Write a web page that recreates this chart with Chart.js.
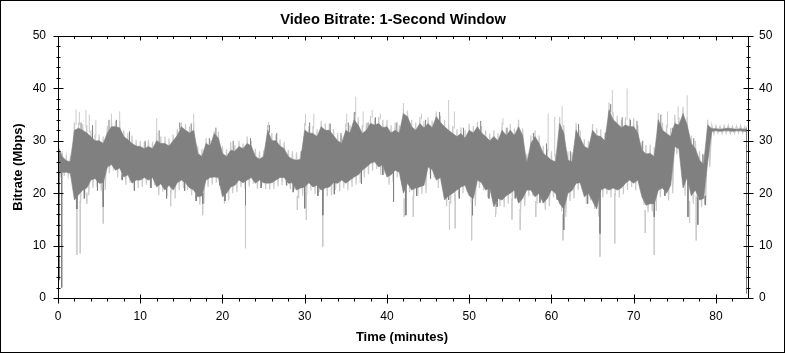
<!DOCTYPE html>
<html lang="en">
<head>
    <meta charset="UTF-8">
    <title>Video Bitrate: 1-Second Window</title>
    <style>
        body { margin: 0; background: #fff; }
        #chart { display: block; }
    </style>
</head>
<body>

<canvas id="chart" width="785" height="353"></canvas>

<script src="https://cdn.jsdelivr.net/npm/chart.js"></script>
<script>
  // time step of the envelope arrays (minutes)
  const STEP = 0.5;
  const END_T = 83.72;
  const X_MAX = 83.9;
  const xTicks = [0, 10, 20, 30, 40, 50, 60, 70, 80];
  const yTicks = [0, 10, 20, 30, 40, 50];

  // dark grey trace: upper and lower envelope per half minute (Mbps)
  const darkHi = [
    29, 27, 26.2, 26, 32, 32.4, 32, 31.5, 30.8, 30,
    30, 29.5, 31.5, 32.7, 32.7, 32.5, 30.8, 30.2, 29.5, 29,
    28.9, 28.5, 28.9, 28.5, 30, 29.5, 29.5, 29, 30, 31,
    32.7, 32, 31.5, 32, 27.6, 27, 29.5, 29, 31.4, 30.5,
    27.6, 27, 28.2, 28, 28.9, 28.5, 29.5, 29, 27, 26.5,
    27, 32, 30, 30, 29, 28.5, 27, 26.5, 26.3, 26.5,
    32, 31.5, 31.4, 30.8, 32.7, 32, 32, 31, 30, 29.5,
    32, 31.5, 34, 33, 31.4, 32, 33.3, 33, 33.3, 32.5,
    32.7, 31.5, 32, 31.5, 35.2, 34.6, 32.7, 32, 33.3, 32.5,
    33.3, 32.5, 34.6, 33.5, 32.7, 32, 31.4, 30.8, 31.4, 30.5,
    32, 31.5, 32.7, 31.5, 30.8, 30, 30.8, 30, 32, 31,
    32, 31, 32.7, 31, 25.7, 29.5, 30.8, 29.5, 27.6, 27,
    26.3, 26, 33.3, 31.5, 26.3, 26, 32, 30.5, 28.9, 28.5,
    32, 31, 30.8, 30, 35.9, 34, 33.3, 32.5, 33, 32.7,
    32.7, 31.5, 28.2, 27.5, 27.6, 27, 34, 32, 31.4, 30.8,
    33.3, 33, 35.2, 33, 29.5, 28.5, 26.3, 25.5, 33, 32.3,
    32.3, 32.2, 32.3, 32.4, 32.3, 32.2, 32.3, 32.2
  ];
  const darkLo = [
    24, 24, 24, 23.8, 18.7, 19.7, 20.6, 21, 22.5, 22.8,
    21.9, 22, 25, 25.5, 24.4, 24.8, 23.1, 23.5, 21.9, 22.5,
    22.5, 23, 22.5, 23, 21.2, 21.8, 20.6, 21.5, 20.6, 22,
    22.5, 22, 21, 20.6, 19.3, 19.5, 22.5, 23, 23.1, 23,
    19.3, 20, 21.2, 21.5, 22.5, 22, 22.5, 23, 21.9, 22.5,
    22, 21.9, 22, 22.5, 23, 23, 21.9, 22, 20.6, 21,
    21.2, 22, 21.2, 21.5, 20.6, 21, 21.2, 22, 21.9, 22.5,
    21.9, 22.5, 23.1, 23.5, 24.4, 25, 25.7, 26, 25, 25.5,
    23.1, 23.5, 24.4, 24, 20, 21.9, 20.6, 21, 21.2, 21.5,
    25, 24.5, 22.5, 23, 18.7, 19.5, 20, 20.6, 21.2, 21.5,
    19.5, 19, 22.5, 22, 20.6, 21, 17.4, 19, 18.7, 19.5,
    20, 20.6, 18.1, 19, 20.6, 20.6, 19.3, 20, 18.1, 19,
    20.6, 20, 18, 17, 20, 20.5, 21.9, 22, 19.3, 20,
    18.5, 17, 20.6, 21, 20.6, 21, 20.6, 21, 21.9, 22.5,
    21.9, 22.5, 19.3, 17.7, 18, 18, 20.6, 21, 20, 21.5,
    28.9, 28.5, 21, 23, 19.5, 20.6, 18.7, 19, 26, 31.8,
    31.9, 31.8, 31.9, 31.9, 31.8, 31.9, 31.9, 31.8
  ];

  // light grey trace: envelope per half minute (Mbps)
  const lightHi = [
    30, 28, 27, 26.8, 33.5, 33.5, 33.2, 33, 32, 31.2,
    31.2, 30.8, 32.8, 34, 33.8, 33.8, 32, 31.5, 31, 30.2,
    30, 29.8, 30.2, 29.8, 31.5, 30.8, 30.8, 30.5, 31.2, 32.3,
    33.5, 33.2, 32.8, 33.4, 29, 28.5, 30.5, 30.2, 31.8, 31.7,
    29, 28.4, 29.8, 29.2, 30, 29.5, 30.8, 30, 28.5, 28,
    28.2, 33, 31.5, 31.2, 30.3, 29.8, 28.3, 28, 27.8, 28,
    33.4, 32.8, 32.8, 32.2, 33.8, 33.3, 33.3, 32.3, 31.5, 31,
    33.3, 33, 35.5, 34.5, 33, 33.4, 34.8, 34.3, 34.6, 34,
    34, 33, 33.5, 33, 36.2, 35.8, 34, 33.5, 34.6, 33.8,
    34.5, 33.8, 35.6, 34.8, 34, 33.2, 32.8, 32.2, 32.6, 32,
    33.3, 32.8, 33.6, 32.8, 32, 31.4, 32, 31.5, 33.5, 32.5,
    33.2, 32.4, 34, 32.4, 27.5, 31, 32, 31, 29, 28.5,
    28, 27.5, 34.6, 33, 28, 27.8, 33.4, 32, 30.3, 30,
    33.2, 32.4, 32.2, 31.6, 37.3, 35.5, 34.8, 34, 34.5, 34.3,
    34.3, 33, 29.8, 29.2, 29.3, 28.8, 35.3, 33.5, 33, 32.4,
    35, 34.5, 36.5, 34.5, 31, 30, 28, 27.3, 34, 33,
    32.9, 32.8, 32.9, 33, 32.8, 32.8, 32.9, 32.7
  ];
  const lightLo = [
    23, 23.3, 23.4, 23.2, 17, 18, 19.3, 19.6, 21, 21.2,
    20.4, 20.6, 23.8, 24.3, 23, 23.5, 21.6, 22, 20.5, 21,
    21.2, 21.6, 21, 21.5, 19.6, 20.3, 19.4, 20, 19, 20.6,
    21, 20.6, 19.6, 19, 17.8, 18, 21.2, 21.6, 22, 21.8,
    18, 18.6, 20, 20.2, 21.2, 20.8, 21.3, 21.8, 20.8, 21.3,
    20.8, 20.7, 20.8, 21.3, 21.5, 21.6, 20.8, 20.6, 19, 19.5,
    19.7, 20.5, 19.8, 20.2, 19, 19.4, 19.5, 20.6, 20.4, 21,
    20.6, 21.2, 21.6, 22, 23, 23.6, 24.3, 24.6, 23.5, 23.8,
    21.6, 22, 23, 22.5, 18.5, 20.2, 19, 19.5, 19.8, 20,
    23.5, 23, 21, 21.5, 17.5, 18, 18.5, 19.2, 20, 20.3,
    18, 17.5, 21, 20.5, 19.2, 19.6, 16, 17.5, 17.3, 18,
    18.5, 19.2, 16.5, 17.5, 19.4, 19.4, 18, 18.7, 16.8, 17.5,
    19.2, 18.7, 16.5, 15.5, 18.5, 19, 20.6, 20.8, 18, 18.6,
    17, 15.5, 19.2, 19.8, 19.2, 19.5, 19.2, 19.8, 20.6, 21.2,
    20.6, 21.2, 17.8, 16.3, 16.5, 16.6, 19.2, 19.6, 18.6, 20,
    27.4, 27, 19.5, 21.5, 18, 19, 17.3, 17.6, 25, 31.3,
    31.5, 31.4, 31.5, 31.4, 31.4, 31.5, 31.5, 31.4
  ];

  // single-second spikes that reach past the envelopes
  const lightSpikeT = [2.2, 2.3, 2.6, 2.7, 3.4, 3.5, 3.8, 4.6, 5.5, 6.5, 7.5, 12.0, 13.7, 16.5, 17.6,
    22.8, 25.6, 29.1, 30.1, 30.2, 31.1, 32.2, 35.1, 36.2, 37.1, 38.2, 39.2, 42.0, 42.1, 43.2,
    44.2, 46.2, 47.5, 47.6, 48.2, 48.3, 50.3, 53.2, 54.1, 55.2, 56.2, 58.1, 59.6, 60.4, 61.3,
    61.4, 65.9, 67.4, 67.7, 69.2, 71.4, 72.5, 74.1, 75.4, 76.5, 76.8, 77.6];
  const lightSpikeV = [36, 8.2, 35.5, 8.5, 35.9, 18, 35, 34, 14.2, 35.2, 35.6, 34.3, 17.5, 35.2, 15.8,
    9.5, 33.6, 16.8, 35.2, 14.9, 35.2, 9.8, 35.2, 38.4, 35.6, 35.9, 35.2, 37.2, 15.5, 15.5,
    35.2, 35.2, 37.8, 13, 35.6, 13.3, 11, 15.5, 34.3, 15, 13, 15.5, 35.2, 34.6, 36.6,
    11, 7.9, 39.7, 10.4, 40, 12.4, 8.2, 35.6, 36.6, 38.7, 14.3, 11];
  const darkSpikeT = [0.15, 0.45, 2.3, 2.8, 3.2, 4.2, 4.8, 5.5, 6.2, 7.1, 7.8, 8.7, 9.3, 10.6,
    11.3, 12.3, 13.2, 14.8, 15.4, 16.2, 16.8, 17.6, 18.4, 19.2, 19.7, 20.3, 21.3, 22.8, 23.4,
    24.7, 25.7, 26.6, 27.8, 28.6, 29.6, 30.0, 30.6, 31.6, 32.2, 33.1, 33.6, 34.4, 35.3, 36.1,
    36.9, 37.7, 38.6, 39.5, 40.8, 41.2, 42.3, 43.6, 44.7, 45.3, 46.4, 47.5, 48.8, 49.3, 50.4,
    51.4, 52.4, 53.4, 54.6, 55.6, 57.8, 58.6, 59.4, 60.7, 61.5, 62.3, 63.3, 64.4, 65.9, 66.6,
    67.2, 68.6, 69.6, 70.4, 71.1, 72.5, 73.3, 73.8, 74.7, 75.8, 76.6, 77.3, 77.8, 78.4, 78.7,
    83.72];
  const darkSpikeV = [3.4, 2, 17, 33.5, 19, 33, 20.5, 17.4, 34, 34, 22.5, 31.8, 20.5, 30,
    21, 32, 19, 33.5, 20.5, 33.3, 18.5, 18, 30.5, 32.5, 21.5, 18.5, 30, 17.7, 30.5,
    21, 33, 31.5, 21.5, 20.2, 28, 17.1, 33.5, 19.5, 15.8, 33.3, 19.8, 31.5, 33.5, 35.5,
    21.8, 33.5, 34.5, 23.5, 18.4, 33.5, 15.8, 19.5, 34, 22.8, 35.5, 18.7, 19, 32.5, 15.8,
    33.8, 19, 17.4, 32.5, 19, 31.5, 18.2, 29.5, 18.8, 13, 28, 33.2, 18, 12.3, 31.5,
    37, 34.5, 34, 33.8, 30, 15.5, 35, 19.5, 32.5, 34.5, 15.5, 30.5, 14, 27.5, 17.8,
    0.9];

  const DARK = '#808080';
  const LIGHT = '#cbcbcb';
  const FONT = "'Liberation Sans', Arial, sans-serif";

  function bandPoints(arr) {
    const pts = arr.map((v, i) => ({ x: i * STEP, y: v }));
    pts.push({ x: END_T, y: arr[arr.length - 1] });
    return pts;
  }

  // trace swinging between the two envelopes, hi at t and lo half a step later
  function tracePoints(hi, lo) {
    const pts = [];
    hi.forEach((v, i) => {
      pts.push({ x: i * STEP, y: v }, { x: i * STEP + STEP / 2, y: lo[i] });
    });
    pts.push({ x: END_T, y: hi[hi.length - 1] });
    return pts;
  }

  function spikePoints(ts, vs, hi, lo) {
    const pts = [];
    ts.forEach((t, i) => {
      const k = Math.min(hi.length - 1, Math.round(t / STEP));
      const v = vs[i];
      const from = v > hi[k] ? hi[k] - 0.5 : (v < lo[k] ? lo[k] + 0.5 : v);
      pts.push({ x: t, y: from }, { x: t, y: v }, { x: t, y: null });
    });
    return pts;
  }

  const trace = (data, color, width, order) => ({
    data: data, fill: false, borderColor: color, borderWidth: width,
    pointRadius: 0, pointHoverRadius: 0, spanGaps: false, order: order
  });
  const band = (data, fill, order) => ({
    data: data, fill: fill, backgroundColor: DARK, borderColor: DARK, borderWidth: 0.6,
    pointRadius: 0, pointHoverRadius: 0, order: order
  });

  // frame, tick marks and titles
  const decor = {
    id: 'decor',
    afterDraw(chart) {
      const c = chart.ctx, a = chart.chartArea;
      const sx = chart.scales.x, sy = chart.scales.y;
      const L = a.left + 0.5, R = a.right + 0.5, T = a.top + 0.5, B = a.bottom + 0.5;
      c.save();
      c.strokeStyle = '#000';
      c.lineWidth = 1;
      c.strokeRect(0.5, 0.5, chart.width - 1, chart.height - 1);
      c.strokeRect(L, T, R - L, B - T);
      c.beginPath();
      for (let v = 0; v <= 82; v += 2) {
        const px = Math.round(sx.getPixelForValue(v)) + 0.5;
        const major = v % 10 === 0;
        c.moveTo(px, B - (major ? 4 : 0)); c.lineTo(px, B + (major ? 5 : 3));
        c.moveTo(px, T); c.lineTo(px, T + (major ? 4 : 2.5));
      }
      for (let v = 0; v <= 50; v += 2) {
        const py = Math.round(sy.getPixelForValue(v)) + 0.5;
        const n = v % 10 === 0 ? 5 : 2;
        c.moveTo(L - n, py); c.lineTo(L + n, py);
        c.moveTo(R - n, py); c.lineTo(R + n, py);
      }
      c.stroke();
      c.fillStyle = '#000';
      c.textAlign = 'center';
      c.textBaseline = 'alphabetic';
      c.font = 'bold 14.7px ' + FONT;
      c.fillText('Video Bitrate: 1-Second Window', 393, 24);
      c.font = 'bold 13px ' + FONT;
      c.fillText('Time (minutes)', 402, 341);
      c.translate(22, 167);
      c.rotate(-Math.PI / 2);
      c.fillText('Bitrate (Mbps)', 0, 0);
      c.restore();
    }
  };

  const tickFont = { family: FONT, size: 12 };
  const yScale = (pos, width, pad) => ({
    type: 'linear', position: pos, min: 0, max: 50,
    grid: { display: false, drawTicks: false }, border: { display: false },
    ticks: { padding: pad, color: '#000', font: tickFont },
    afterBuildTicks: s => { s.ticks = yTicks.map(v => ({ value: v })); },
    afterFit: s => { s.width = width; }
  });

  new Chart(document.getElementById('chart'), {
    type: 'line',
    data: {
      datasets: [
        trace(tracePoints(lightHi, lightLo), LIGHT, 1.2, 4),
        trace(spikePoints(lightSpikeT, lightSpikeV, lightHi, lightLo), LIGHT, 1, 3),
        band(bandPoints(darkLo), false, 2),
        band(bandPoints(darkHi), '-1', 2),
        trace(spikePoints(darkSpikeT, darkSpikeV, darkHi, darkLo), DARK, 1, 1)
      ]
    },
    options: {
      responsive: false,
      animation: false,
      devicePixelRatio: 1,
      layout: { padding: { top: 36, left: 0, right: 0, bottom: 0 } },
      plugins: { legend: { display: false }, tooltip: { enabled: false }, title: { display: false } },
      scales: {
        x: {
          type: 'linear', position: 'bottom', min: 0, max: X_MAX,
          grid: { display: false, drawTicks: false }, border: { display: false },
          afterBuildTicks: s => { s.ticks = xTicks.map(v => ({ value: v })); },
          ticks: { padding: 11, color: '#000', font: tickFont, maxRotation: 0, autoSkip: false },
          afterFit: s => { s.height = 55; }
        },
        y: yScale('left', 58, 12),
        y2: yScale('right', 37, 11)
      }
    },
    plugins: [decor]
  });
</script>

</body>
</html>
